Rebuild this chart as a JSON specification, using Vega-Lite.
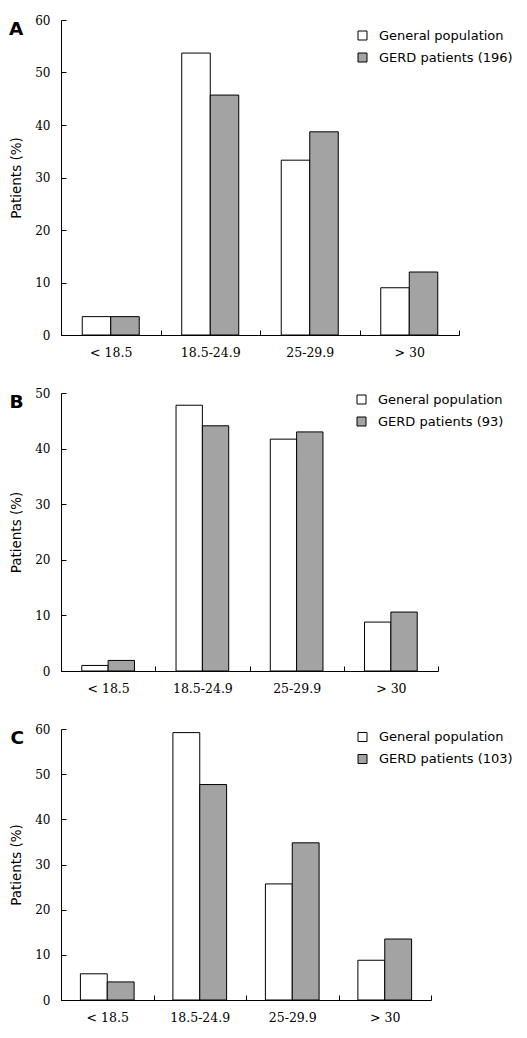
{
  "$schema": "https://vega.github.io/schema/vega-lite/v6.json",
  "background": "white",
  "padding": {"left": 9, "top": 14, "right": 0, "bottom": 0},
  "config": {
    "view": {"stroke": null},
    "concat": {"spacing": 28},
    "axis": {
      "domainColor": "black",
      "tickColor": "black",
      "labelColor": "black",
      "titleColor": "black",
      "grid": false,
      "labelFont": "DejaVu Serif",
      "labelFontSize": 12,
      "titleFont": "DejaVu Sans",
      "titleFontSize": 13.5,
      "titleFontWeight": "normal"
    },
    "axisX": {"tickSize": -5, "labelPadding": 16, "tickBand": "extent", "labelAngle": 0, "title": null, "labelFontSize": 12.5},
    "axisY": {"tickSize": -5, "labelPadding": 16, "titlePadding": 11},
    "legend": {
      "orient": "none",
      "padding": 0,
      "title": null,
      "labelFont": "DejaVu Sans",
      "labelFontSize": 13,
      "labelColor": "black",
      "symbolType": "square",
      "symbolSize": 81,
      "symbolStrokeColor": "black",
      "symbolStrokeWidth": 1,
      "labelOffset": 10,
      "rowPadding": 8
    },
    "title": {
      "orient": "left",
      "anchor": "end",
      "frame": "group",
      "angle": 0,
      "align": "right",
      "baseline": "top",
      "font": "DejaVu Sans",
      "fontSize": 18.5,
      "fontWeight": "bold",
      "color": "black",
      "offset": -12,
      "dx": 16
    }
  },
  "datasets": {
    "a": [
      {"bmi": "< 18.5", "group": "General population", "pct": 3.5},
      {"bmi": "< 18.5", "group": "GERD patients (196)", "pct": 3.5},
      {"bmi": "18.5-24.9", "group": "General population", "pct": 53.7},
      {"bmi": "18.5-24.9", "group": "GERD patients (196)", "pct": 45.7},
      {"bmi": "25-29.9", "group": "General population", "pct": 33.3},
      {"bmi": "25-29.9", "group": "GERD patients (196)", "pct": 38.7},
      {"bmi": "> 30", "group": "General population", "pct": 9.0},
      {"bmi": "> 30", "group": "GERD patients (196)", "pct": 12.0}
    ],
    "b": [
      {"bmi": "< 18.5", "group": "General population", "pct": 1.0},
      {"bmi": "< 18.5", "group": "GERD patients (93)", "pct": 1.9},
      {"bmi": "18.5-24.9", "group": "General population", "pct": 47.8},
      {"bmi": "18.5-24.9", "group": "GERD patients (93)", "pct": 44.1},
      {"bmi": "25-29.9", "group": "General population", "pct": 41.7},
      {"bmi": "25-29.9", "group": "GERD patients (93)", "pct": 43.0},
      {"bmi": "> 30", "group": "General population", "pct": 8.8},
      {"bmi": "> 30", "group": "GERD patients (93)", "pct": 10.6}
    ],
    "c": [
      {"bmi": "< 18.5", "group": "General population", "pct": 5.8},
      {"bmi": "< 18.5", "group": "GERD patients (103)", "pct": 4.0},
      {"bmi": "18.5-24.9", "group": "General population", "pct": 59.2},
      {"bmi": "18.5-24.9", "group": "GERD patients (103)", "pct": 47.7},
      {"bmi": "25-29.9", "group": "General population", "pct": 25.7},
      {"bmi": "25-29.9", "group": "GERD patients (103)", "pct": 34.8},
      {"bmi": "> 30", "group": "General population", "pct": 8.8},
      {"bmi": "> 30", "group": "GERD patients (103)", "pct": 13.5}
    ]
  },
  "resolve": {"scale": {"fill": "independent", "y": "independent", "x": "independent", "xOffset": "independent"}, "legend": {"fill": "independent"}},
  "vconcat": [
    {
      "width": 398,
      "height": 315,
      "title": {"text": "A"},
      "data": {"name": "a"},
      "mark": {"type": "bar", "stroke": "black", "strokeWidth": 1},
      "encoding": {
        "x": {"field": "bmi", "type": "nominal", "sort": ["< 18.5", "18.5-24.9", "25-29.9", "> 30"], "scale": {"paddingInner": 0, "paddingOuter": 0}},
        "xOffset": {"field": "group", "type": "nominal", "sort": ["General population", "GERD patients (196)"], "scale": {"paddingInner": 0, "paddingOuter": 0.745}},
        "y": {"field": "pct", "type": "quantitative", "scale": {"domain": [0, 60]}, "axis": {"values": [0, 10, 20, 30, 40, 50, 60], "title": "Patients (%)"}},
        "fill": {"field": "group", "type": "nominal", "scale": {"domain": ["General population", "GERD patients (196)"], "range": ["white", "#a3a3a3"]}, "legend": {"legendX": 295, "legendY": 9, "symbolType": "square"}}
      }
    },
    {
      "width": 377,
      "height": 278,
      "title": {"text": "B"},
      "data": {"name": "b"},
      "mark": {"type": "bar", "stroke": "black", "strokeWidth": 1},
      "encoding": {
        "x": {"field": "bmi", "type": "nominal", "sort": ["< 18.5", "18.5-24.9", "25-29.9", "> 30"], "scale": {"paddingInner": 0, "paddingOuter": 0}},
        "xOffset": {"field": "group", "type": "nominal", "sort": ["General population", "GERD patients (93)"], "scale": {"paddingInner": 0, "paddingOuter": 0.789}},
        "y": {"field": "pct", "type": "quantitative", "scale": {"domain": [0, 50]}, "axis": {"values": [0, 10, 20, 30, 40, 50], "title": "Patients (%)"}},
        "fill": {"field": "group", "type": "nominal", "scale": {"domain": ["General population", "GERD patients (93)"], "range": ["white", "#a3a3a3"]}, "legend": {"legendX": 294, "legendY": 0, "symbolType": "square"}}
      }
    },
    {
      "width": 370,
      "height": 271,
      "title": {"text": "C"},
      "data": {"name": "c"},
      "mark": {"type": "bar", "stroke": "black", "strokeWidth": 1},
      "encoding": {
        "x": {"field": "bmi", "type": "nominal", "sort": ["< 18.5", "18.5-24.9", "25-29.9", "> 30"], "scale": {"paddingInner": 0, "paddingOuter": 0}},
        "xOffset": {"field": "group", "type": "nominal", "sort": ["General population", "GERD patients (103)"], "scale": {"paddingInner": 0, "paddingOuter": 0.722}},
        "y": {"field": "pct", "type": "quantitative", "scale": {"domain": [0, 60]}, "axis": {"values": [0, 10, 20, 30, 40, 50, 60], "title": "Patients (%)"}},
        "fill": {"field": "group", "type": "nominal", "scale": {"domain": ["General population", "GERD patients (103)"], "range": ["white", "#a3a3a3"]}, "legend": {"legendX": 295, "legendY": 1.5, "symbolType": "square"}}
      }
    }
  ]
}
